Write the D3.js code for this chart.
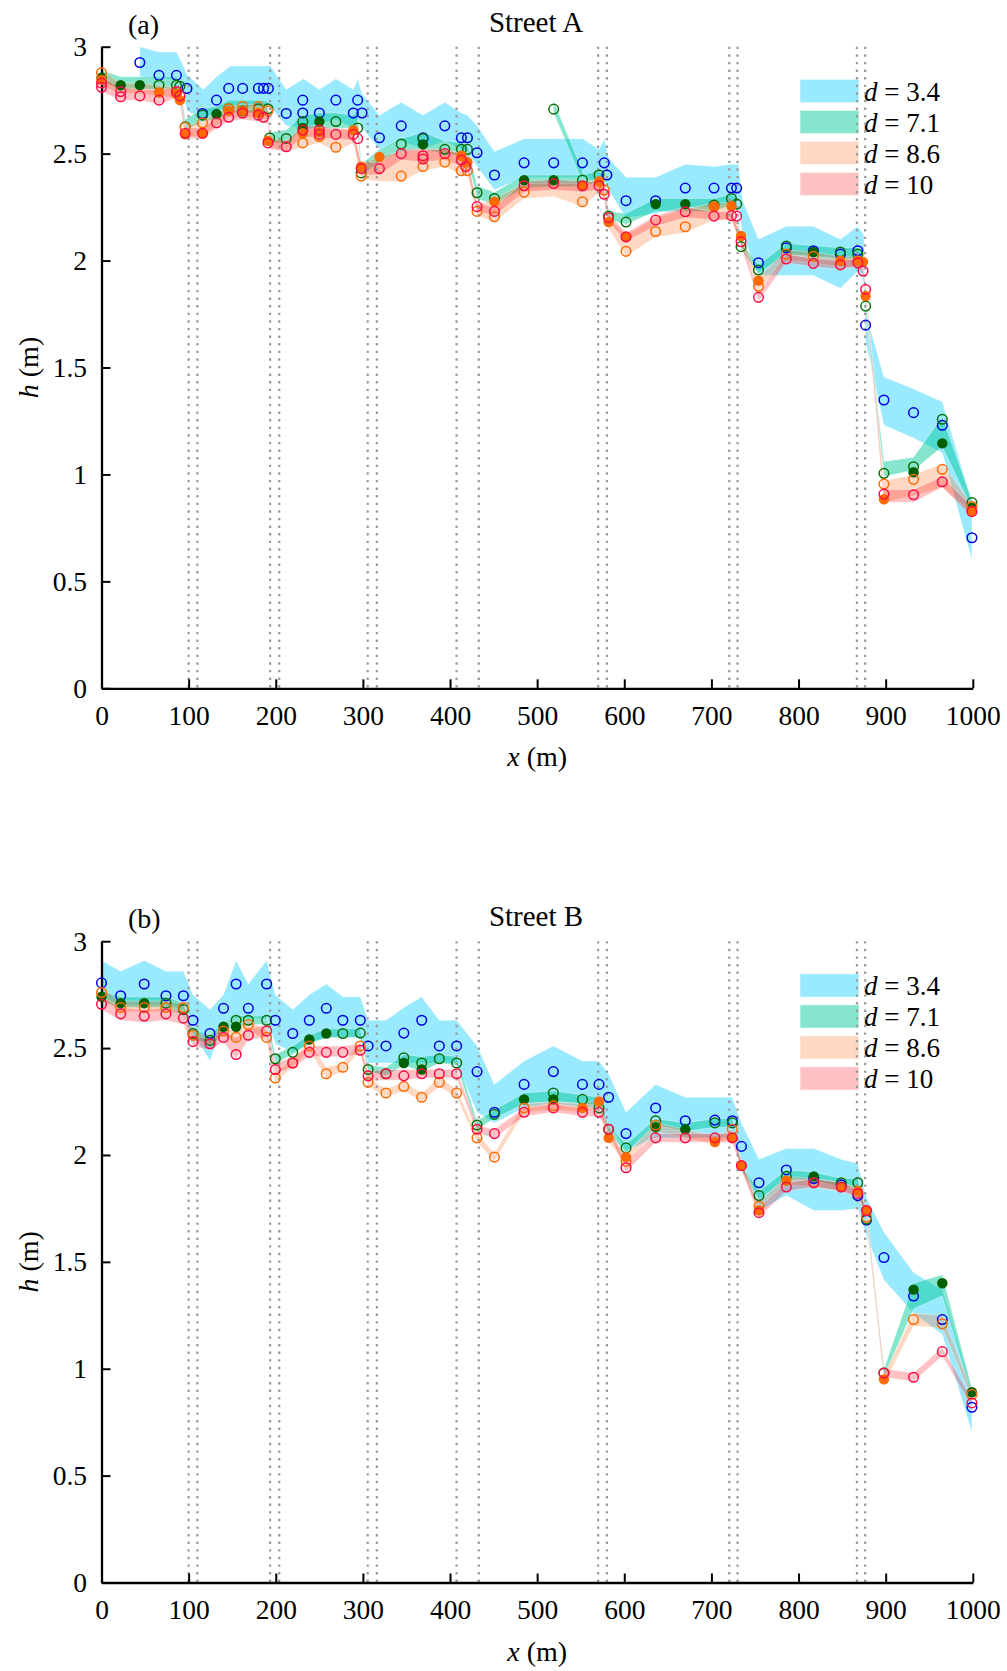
<!DOCTYPE html>
<html>
<head>
<meta charset="utf-8">
<script src="https://cdn.jsdelivr.net/npm/d3@7"></script>
<style>
  html, body { margin: 0; padding: 0; background: #fff; }
  svg { display: block; }
  text { font-family: "Liberation Serif", "Times New Roman", serif; fill: #000; }
</style>
</head>
<body>
<svg id="chart" width="1007" height="1671"></svg>
<script>
// ---- tick labels and common settings ----
const xTicks = [0, 100, 200, 300, 400, 500, 600, 700, 800, 900, 1000];
const yTicks = [0, 0.5, 1, 1.5, 2, 2.5, 3];
const seriesLabels = ["d = 3.4", "d = 7.1", "d = 8.6", "d = 10"];
const panelTitles = ["Street A", "Street B"];
const panelTags = ["(a)", "(b)"];
// intersections along the street (pairs of dotted lines)
const crossings = [[100, 110], [193.5, 204], [305.5, 316], [407.5, 433], [570, 580], [720.5, 730], [867, 876.5]];

// ---- Street A : bands [x, low, high] ----
const bandA_d34 = [[44,2.86,3.0],[66,2.85,2.975],[86,2.85,2.975],[93,2.8,2.92],[98,2.70,2.87],[117,2.66,2.80],[132,2.70,2.86],[148,2.72,2.91],[162,2.72,2.91],[180,2.72,2.91],[194,2.72,2.91],[212,2.63,2.80],[232,2.62,2.85],[250,2.64,2.80],[269,2.66,2.85],[289,2.62,2.80],[294,2.66,2.85],[299,2.62,2.78],[319,2.52,2.68],[344,2.56,2.74],[369,2.52,2.68],[394,2.56,2.74],[413,2.52,2.69],[420,2.51,2.68],[431,2.44,2.63],[451,2.33,2.51],[485,2.39,2.57],[519,2.39,2.57],[552,2.39,2.57],[571,2.37,2.52],[577,2.38,2.57],[582,2.33,2.48],[602,2.20,2.39],[636,2.22,2.39],[670,2.25,2.45],[703,2.25,2.44],[723,2.27,2.45],[731,2.25,2.45],[736,2.12,2.28],[754,1.93,2.10],[786,1.93,2.16],[817,1.93,2.16],[848,1.87,2.10],[868,1.95,2.16],[875,1.9,2.12],[877,1.62,1.76],[898,1.23,1.456],[932,1.17,1.40],[965,1.10,1.34],[999,0.6,0.87]];
const bandA_d71 = [[0,2.835,2.89],[22,2.80,2.86],[44,2.80,2.86],[66,2.80,2.86],[86,2.80,2.86],[90,2.78,2.84],[96,2.61,2.66],[116,2.65,2.71],[132,2.66,2.72],[146,2.69,2.75],[162,2.69,2.75],[180,2.69,2.75],[191,2.69,2.745],[193,2.55,2.60],[212,2.55,2.61],[231,2.61,2.68],[250,2.62,2.69],[269,2.62,2.69],[289,2.62,2.68],[294,2.60,2.70],[298,2.40,2.45],[319,2.46,2.52],[344,2.51,2.57],[369,2.52,2.60],[394,2.50,2.56],[413,2.49,2.55],[420,2.48,2.54],[431,2.29,2.35],[451,2.26,2.32],[485,2.34,2.40],[519,2.345,2.40],[552,2.345,2.40],[571,2.37,2.42],[577,2.34,2.40],[582,2.19,2.23],[602,2.17,2.22],[636,2.23,2.29],[670,2.23,2.29],[703,2.23,2.29],[723,2.26,2.31],[729,2.24,2.29],[734,2.05,2.09],[754,1.94,1.98],[786,2.03,2.08],[817,2.02,2.07],[848,2.01,2.06],[868,2.01,2.06],[874,1.97,2.03],[877,1.77,1.82],[898,0.99,1.06],[932,1.02,1.08],[965,1.13,1.27],[999,0.84,0.88]];
const bandA_d71_spike = [[519,2.69,2.745],[552,2.37,2.42]];
const bandA_d86 = [[0,2.82,2.89],[22,2.78,2.83],[44,2.78,2.83],[66,2.77,2.82],[86,2.76,2.81],[90,2.74,2.80],[96,2.58,2.63],[116,2.58,2.65],[132,2.63,2.69],[146,2.67,2.72],[162,2.67,2.73],[180,2.67,2.73],[191,2.66,2.72],[193,2.53,2.57],[212,2.51,2.56],[231,2.53,2.61],[250,2.55,2.62],[269,2.51,2.61],[289,2.55,2.62],[298,2.38,2.45],[319,2.37,2.49],[344,2.37,2.51],[369,2.42,2.52],[394,2.44,2.52],[413,2.40,2.50],[420,2.40,2.48],[431,2.21,2.26],[451,2.18,2.29],[485,2.29,2.36],[519,2.30,2.36],[552,2.25,2.36],[571,2.32,2.38],[577,2.28,2.36],[582,2.15,2.20],[602,2.02,2.12],[636,2.11,2.20],[670,2.13,2.24],[703,2.19,2.27],[723,2.19,2.27],[734,2.08,2.12],[754,1.86,1.92],[786,2.00,2.05],[817,1.99,2.04],[848,1.97,2.02],[868,1.97,2.02],[874,1.96,2.01],[877,1.81,1.86],[898,0.87,0.97],[932,0.90,1.00],[965,0.94,1.05],[999,0.82,0.86]];
const bandA_d10 = [[0,2.79,2.86],[22,2.75,2.81],[44,2.75,2.80],[66,2.73,2.80],[86,2.76,2.81],[90,2.75,2.80],[96,2.57,2.62],[116,2.57,2.62],[132,2.62,2.67],[146,2.65,2.70],[162,2.66,2.71],[180,2.65,2.70],[191,2.64,2.70],[193,2.52,2.57],[212,2.51,2.56],[231,2.58,2.63],[250,2.57,2.63],[269,2.57,2.62],[289,2.56,2.61],[298,2.40,2.46],[319,2.40,2.46],[344,2.47,2.52],[369,2.46,2.52],[394,2.47,2.52],[413,2.44,2.50],[420,2.42,2.47],[431,2.23,2.27],[451,2.21,2.25],[485,2.32,2.37],[519,2.33,2.38],[552,2.32,2.37],[571,2.33,2.37],[577,2.29,2.33],[582,2.18,2.22],[602,2.09,2.13],[636,2.16,2.21],[670,2.20,2.25],[703,2.19,2.23],[723,2.19,2.23],[734,2.07,2.11],[754,1.81,1.85],[786,1.99,2.03],[817,1.97,2.01],[848,1.96,2.00],[868,1.97,2.01],[874,1.93,1.97],[877,1.85,1.88],[898,0.87,0.93],[932,0.87,0.93],[965,0.94,0.99],[999,0.80,0.85]];

// ---- Street A : measured points [x, h] ----
const openA_d34 = [[44,2.926],[66,2.866],[86,2.866],[98,2.805],[116,2.688],[132,2.75],[146,2.805],[162,2.805],[180,2.805],[186,2.805],[191.5,2.805],[212,2.688],[231,2.75],[231,2.69],[250,2.69],[269,2.75],[289,2.69],[294,2.75],[299,2.69],[319,2.574],[344,2.63],[369,2.574],[394,2.63],[413,2.574],[420,2.574],[431,2.504],[451,2.40],[485,2.457],[519,2.457],[552,2.457],[577,2.457],[580,2.40],[602,2.28],[636,2.28],[670,2.339],[703,2.339],[723,2.339],[729,2.339],[754,1.99],[786,2.06],[817,2.046],[848,2.03],[868,2.046],[877,1.698],[898,1.348],[932,1.289],[965,1.23],[999,0.704]];
const filledA_d34 = [];
const openA_d71 = [[66,2.82],[86,2.82],[90,2.815],[96,2.625],[116,2.68],[146,2.71],[162,2.70],[180,2.71],[191,2.71],[193,2.573],[212,2.571],[231,2.65],[269,2.65],[294,2.62],[298,2.41],[344,2.545],[369,2.57],[394,2.52],[413,2.52],[420,2.52],[431,2.317],[451,2.29],[519,2.708],[552,2.376],[571,2.40],[582,2.208],[602,2.18],[703,2.26],[723,2.29],[729,2.264],[734,2.065],[754,1.956],[786,2.068],[848,2.04],[868,2.03],[877,1.787],[898,1.005],[932,1.036],[965,1.258],[999,0.868]];
const filledA_d71 = [[0,2.855],[22,2.82],[44,2.82],[132,2.685],[231,2.62],[250,2.65],[369,2.543],[485,2.376],[519,2.376],[636,2.264],[670,2.264],[817,2.04],[932,1.01],[965,1.145],[999,0.845]];
const openA_d86 = [[0,2.878],[86,2.79],[96,2.623],[116,2.644],[146,2.71],[162,2.72],[180,2.72],[191,2.70],[231,2.55],[250,2.58],[269,2.53],[298,2.395],[344,2.395],[369,2.44],[394,2.46],[413,2.42],[420,2.42],[431,2.23],[451,2.205],[485,2.32],[552,2.275],[577,2.33],[602,2.043],[636,2.136],[670,2.158],[703,2.252],[754,1.88],[786,2.03],[817,2.02],[898,0.955],[932,0.977],[965,1.024],[999,0.85]];
const filledA_d86 = [[0,2.845],[66,2.786],[86,2.78],[90,2.75],[96,2.59],[116,2.595],[146,2.70],[162,2.70],[180,2.69],[191,2.56],[231,2.595],[250,2.60],[289,2.61],[298,2.439],[319,2.485],[413,2.49],[420,2.46],[451,2.275],[552,2.35],[571,2.37],[582,2.18],[602,2.111],[703,2.25],[723,2.255],[734,2.115],[754,1.906],[848,1.999],[868,2.0],[874,1.994],[877,1.834],[898,0.884],[999,0.83]];
const openA_d10 = [[0,2.83],[0,2.81],[22,2.79],[22,2.766],[44,2.77],[66,2.75],[86,2.79],[90,2.77],[96,2.595],[116,2.595],[132,2.644],[146,2.67],[162,2.69],[180,2.68],[186,2.67],[191,2.55],[212,2.532],[231,2.61],[250,2.59],[250,2.61],[269,2.59],[289,2.59],[294,2.57],[298,2.43],[319,2.43],[344,2.50],[369,2.49],[369,2.475],[394,2.50],[413,2.47],[418,2.44],[431,2.252],[451,2.23],[485,2.35],[519,2.36],[552,2.35],[571,2.35],[577,2.31],[582,2.20],[602,2.111],[636,2.19],[670,2.228],[703,2.208],[723,2.21],[729,2.208],[734,2.088],[754,1.828],[786,2.007],[817,1.987],[848,1.98],[868,1.99],[874,1.951],[877,1.865],[898,0.908],[932,0.905],[965,0.966],[999,0.826]];
const filledA_d10 = [];

// ---- Street B : bands [x, low, high] ----
const bandB_d34 = [[0,2.74,2.91],[22,2.70,2.86],[49,2.70,2.91],[74,2.70,2.86],[94,2.68,2.86],[105,2.57,2.75],[124.5,2.44,2.68],[140,2.62,2.75],[154.5,2.64,2.91],[168.5,2.64,2.80],[189.5,2.64,2.91],[199.5,2.52,2.75],[219.5,2.48,2.68],[238.5,2.52,2.75],[258,2.55,2.80],[277,2.55,2.74],[297,2.55,2.74],[306,2.43,2.63],[326.5,2.43,2.63],[347,2.43,2.69],[367.5,2.43,2.74],[387.7,2.43,2.63],[407.6,2.43,2.63],[431,2.20,2.51],[451,2.15,2.33],[485,2.22,2.44],[518.6,2.24,2.51],[552,2.22,2.44],[571,2.22,2.44],[582,2.14,2.38],[602,2.02,2.20],[636,2.08,2.33],[670,2.08,2.27],[704,2.08,2.27],[724,2.08,2.27],[734.5,1.95,2.15],[754.6,1.74,1.98],[786,1.81,2.03],[817.5,1.74,2.03],[849,1.74,1.98],[868,1.75,1.96],[878,1.62,1.80],[898,1.415,1.64],[932,1.26,1.45],[965,1.16,1.37],[999,0.70,0.90]];
const bandB_d71 = [[0,2.72,2.77],[22,2.69,2.74],[49,2.69,2.74],[74,2.69,2.74],[94,2.66,2.71],[105,2.55,2.59],[124.5,2.52,2.56],[140,2.58,2.62],[154.5,2.60,2.65],[168.5,2.61,2.65],[189.5,2.61,2.65],[199.5,2.43,2.47],[219.5,2.47,2.51],[238.5,2.52,2.56],[258,2.55,2.59],[277,2.55,2.59],[297,2.55,2.59],[306,2.39,2.42],[326.5,2.37,2.41],[347,2.42,2.47],[367.5,2.39,2.46],[387.7,2.43,2.47],[407.6,2.42,2.46],[431,2.12,2.16],[451,2.17,2.21],[485,2.24,2.29],[518.6,2.25,2.30],[552,2.24,2.28],[571,2.23,2.27],[582,2.10,2.14],[602,2.01,2.05],[636,2.14,2.17],[670,2.11,2.15],[704,2.13,2.17],[724,2.13,2.17],[734.5,1.93,1.96],[754.6,1.79,1.83],[786,1.89,1.93],[817.5,1.88,1.92],[849,1.85,1.89],[868,1.85,1.89],[878,1.68,1.72],[898,0.96,1.00],[932,1.28,1.40],[965,1.34,1.44],[999,0.87,0.91]];
const bandB_d86 = [[0,2.73,2.78],[22,2.67,2.72],[49,2.67,2.72],[74,2.67,2.72],[94,2.66,2.71],[105,2.54,2.58],[124.5,2.51,2.55],[140,2.56,2.60],[154.5,2.53,2.58],[168.5,2.59,2.63],[189.5,2.53,2.58],[199.5,2.34,2.38],[219.5,2.41,2.45],[238.5,2.49,2.53],[258,2.36,2.41],[277,2.39,2.43],[297,2.49,2.53],[306,2.32,2.36],[326.5,2.27,2.31],[347,2.30,2.34],[367.5,2.25,2.29],[387.7,2.32,2.36],[407.6,2.27,2.31],[431,2.06,2.10],[451,1.97,2.01],[485,2.20,2.24],[518.6,2.21,2.25],[552,2.20,2.24],[571,2.22,2.26],[582,2.06,2.10],[602,1.96,2.00],[636,2.11,2.15],[670,2.08,2.12],[704,2.05,2.09],[724,2.08,2.12],[734.5,1.93,1.97],[754.6,1.74,1.78],[786,1.86,1.90],[817.5,1.85,1.89],[849,1.83,1.87],[868,1.81,1.85],[878,1.70,1.74],[898,0.93,0.97],[932,1.20,1.26],[965,1.19,1.25],[999,0.86,0.90]];
const bandB_d10 = [[0,2.68,2.74],[22,2.63,2.69],[49,2.62,2.68],[74,2.63,2.69],[94,2.61,2.67],[105,2.51,2.56],[124.5,2.49,2.54],[140,2.53,2.58],[154.5,2.45,2.55],[168.5,2.54,2.59],[189.5,2.55,2.61],[199.5,2.38,2.43],[219.5,2.41,2.46],[238.5,2.46,2.51],[258,2.46,2.51],[277,2.46,2.51],[297,2.47,2.52],[306,2.35,2.39],[326.5,2.35,2.40],[347,2.35,2.40],[367.5,2.36,2.40],[387.7,2.36,2.40],[407.6,2.36,2.40],[431,2.10,2.14],[451,2.08,2.12],[485,2.18,2.22],[518.6,2.20,2.24],[552,2.18,2.22],[571,2.18,2.22],[582,2.10,2.14],[602,1.92,1.97],[636,2.06,2.10],[670,2.06,2.10],[704,2.06,2.10],[724,2.06,2.10],[734.5,1.93,1.97],[754.6,1.71,1.75],[786,1.83,1.87],[817.5,1.85,1.89],[849,1.83,1.87],[868,1.80,1.84],[878,1.72,1.76],[898,0.96,1.00],[932,0.94,0.98],[965,1.06,1.10],[999,0.82,0.86]];

// ---- Street B : measured points [x, h] ----
const openB_d34 = [[0,2.805],[22,2.745],[49,2.80],[74,2.745],[94,2.745],[105,2.63],[124.5,2.568],[140,2.686],[154.5,2.80],[168.5,2.686],[189.5,2.80],[199.5,2.63],[219.5,2.568],[238.5,2.63],[258,2.686],[277,2.63],[297,2.63],[306,2.51],[326.5,2.51],[347,2.57],[367.5,2.63],[387.7,2.51],[407.6,2.51],[431,2.39],[451,2.20],[485,2.33],[518.6,2.39],[552,2.33],[571,2.33],[582,2.27],[602,2.10],[636,2.22],[670,2.16],[704,2.163],[724,2.16],[734.5,2.04],[754.6,1.87],[786,1.93],[817.5,1.89],[849,1.86],[868,1.81],[878,1.696],[898,1.52],[932,1.34],[965,1.23],[999,0.82]];
const filledB_d34 = [];
const openB_d71 = [[74,2.71],[94,2.68],[105,2.568],[124.5,2.536],[154.5,2.63],[168.5,2.63],[189.5,2.63],[199.5,2.45],[219.5,2.48],[277,2.568],[297,2.57],[306,2.40],[326.5,2.38],[347,2.455],[367.5,2.43],[387.7,2.45],[407.6,2.43],[431,2.14],[451,2.19],[518.6,2.29],[552,2.26],[571,2.22],[582,2.12],[602,2.033],[636,2.16],[704,2.15],[724,2.15],[754.6,1.81],[786,1.90],[849,1.87],[868,1.87],[878,1.70],[898,0.98]];
const filledB_d71 = [[0,2.74],[22,2.71],[49,2.71],[140,2.60],[154.5,2.60],[238.5,2.54],[258,2.568],[347,2.43],[367.5,2.40],[485,2.26],[518.6,2.26],[636,2.13],[670,2.12],[817.5,1.90],[932,1.37],[965,1.40],[999,0.89]];
const openB_d86 = [[0,2.76],[22,2.69],[49,2.69],[74,2.69],[94,2.69],[105,2.56],[140,2.58],[154.5,2.55],[168.5,2.61],[189.5,2.55],[199.5,2.36],[219.5,2.43],[238.5,2.51],[258,2.38],[277,2.41],[297,2.51],[306,2.34],[326.5,2.29],[347,2.32],[367.5,2.27],[387.7,2.34],[407.6,2.29],[431,2.08],[451,1.99],[485,2.22],[518.6,2.23],[602,1.97],[636,2.14],[724,2.12],[754.6,1.76],[817.5,1.87],[878,1.71],[932,1.23],[965,1.21],[999,0.88]];
const filledB_d86 = [[552,2.22],[571,2.25],[582,2.08],[602,1.99],[704,2.06],[724,2.08],[734.5,1.95],[754.6,1.74],[786,1.88],[849,1.85],[868,1.83],[878,1.74],[898,0.95]];
const openB_d10 = [[0,2.705],[22,2.66],[49,2.65],[74,2.66],[94,2.64],[105,2.53],[124.5,2.52],[140,2.55],[154.5,2.47],[168.5,2.56],[189.5,2.58],[199.5,2.40],[219.5,2.43],[238.5,2.48],[258,2.48],[277,2.48],[297,2.49],[306,2.37],[326.5,2.38],[347,2.37],[367.5,2.38],[387.7,2.38],[407.6,2.38],[431,2.12],[451,2.10],[485,2.20],[518.6,2.22],[552,2.20],[571,2.20],[582,2.12],[602,1.94],[636,2.08],[670,2.08],[704,2.08],[724,2.08],[734.5,1.95],[754.6,1.73],[786,1.85],[817.5,1.87],[849,1.85],[868,1.82],[878,1.74],[898,0.98],[932,0.96],[965,1.08],[999,0.84]];
const filledB_d10 = [];

// ---- styling per series (d = 3.4, 7.1, 8.6, 10) ----
const bandFill = ["rgba(0,200,255,0.40)", "rgba(0,200,150,0.48)", "rgba(255,120,50,0.29)", "rgba(255,0,10,0.24)"];
const ringColor = ["#0000e0", "#0a6e0a", "#ff6a00", "#ff0a46"];
const dotColor = ["#0000e0", "#005f00", "#ff6a00", "#ff0a46"];

const panels = [
  { top: 46.7, bottom: 688.3,
    bands: [[bandA_d34], [bandA_d71, bandA_d71_spike], [bandA_d86], [bandA_d10]],
    open: [openA_d34, openA_d71, openA_d86, openA_d10],
    filled: [filledA_d34, filledA_d71, filledA_d86, filledA_d10] },
  { top: 941.2, bottom: 1582.5,
    bands: [[bandB_d34], [bandB_d71], [bandB_d86], [bandB_d10]],
    open: [openB_d34, openB_d71, openB_d86, openB_d10],
    filled: [filledB_d34, filledB_d71, filledB_d86, filledB_d10] }
];

const svg = d3.select("#chart");
const x = d3.scaleLinear().domain([0, 1000]).range([101.5, 972.8]);

panels.forEach((p, i) => {
  const y = d3.scaleLinear().domain([0, 3]).range([p.bottom, p.top]);
  const g = svg.append("g");

  // shaded bands
  const area = d3.area().x(d => x(d[0])).y0(d => y(d[1])).y1(d => y(d[2]));
  p.bands.forEach((segs, s) => {
    segs.forEach(seg => {
      g.append("path").attr("d", area(seg))
        .attr("fill", bandFill[s])
        .attr("stroke", "rgba(255,255,255,0.45)").attr("stroke-width", 0.8);
    });
  });

  // legend
  const lg = g.append("g");
  seriesLabels.forEach((lab, s) => {
    const yy = p.top + 32.6 + s * 31;
    lg.append("rect").attr("x", 800).attr("y", yy).attr("width", 59).attr("height", 23.3)
      .attr("fill", bandFill[s]).attr("stroke", "rgba(255,255,255,0.6)").attr("stroke-width", 1);
    const t = lg.append("text").attr("x", 864).attr("y", yy + 21.5).attr("font-size", 27);
    const parts = lab.split(" = ");
    t.append("tspan").attr("font-style", "italic").text(parts[0]);
    t.append("tspan").text(" = " + parts[1]);
  });

  // dotted lines at the crossings
  crossings.forEach(pair => pair.forEach(xv => {
    g.append("line").attr("x1", x(xv)).attr("x2", x(xv))
      .attr("y1", y(3)).attr("y2", y(0))
      .attr("stroke", "#9a9a9a").attr("stroke-width", 2.2)
      .attr("stroke-dasharray", "2.4,5.2");
  }));

  // axes
  const xAxis = d3.axisBottom(x).tickValues(xTicks).tickSize(-9).tickSizeOuter(0).tickPadding(17)
    .tickFormat(d => String(d));
  const gx = g.append("g").attr("transform", `translate(0,${p.bottom})`).call(xAxis);
  const yAxis = d3.axisLeft(y).tickValues(yTicks).tickSize(-9).tickSizeOuter(0).tickPadding(14.5)
    .tickFormat(d => String(d));
  const gy = g.append("g").attr("transform", `translate(${x(0)},0)`).call(yAxis);
  [gx, gy].forEach(ax => {
    ax.select(".domain").attr("stroke", "#000").attr("stroke-width", 2.3);
    ax.selectAll(".tick line").attr("stroke", "#000").attr("stroke-width", 2);
    ax.selectAll(".tick text").attr("font-size", 27.5)
      .attr("font-family", '"Liberation Serif", "Times New Roman", serif').attr("fill", "#000");
  });

  // markers
  p.open.forEach((pts, s) => {
    g.append("g").selectAll("circle").data(pts).join("circle")
      .attr("cx", d => x(d[0])).attr("cy", d => y(d[1])).attr("r", 4.8)
      .attr("fill", "none").attr("stroke", ringColor[s]).attr("stroke-width", 1.5);
    g.append("g").selectAll("circle").data(p.filled[s]).join("circle")
      .attr("cx", d => x(d[0])).attr("cy", d => y(d[1])).attr("r", 5.2)
      .attr("fill", dotColor[s]);
  });

  // titles and labels
  g.append("text").attr("x", 128).attr("y", p.top - 13).attr("font-size", 28).text(panelTags[i]);
  g.append("text").attr("x", 536).attr("y", p.top - 15).attr("font-size", 29)
    .attr("text-anchor", "middle").text(panelTitles[i]);
  const xl = g.append("text").attr("x", x(500)).attr("y", p.bottom + 78).attr("font-size", 28)
    .attr("text-anchor", "middle");
  xl.append("tspan").attr("font-style", "italic").text("x");
  xl.append("tspan").text(" (m)");
  const ym = (p.top + p.bottom) / 2;
  const yl = g.append("text").attr("transform", `translate(38,${ym}) rotate(-90)`).attr("font-size", 28)
    .attr("text-anchor", "middle");
  yl.append("tspan").attr("font-style", "italic").text("h");
  yl.append("tspan").text(" (m)");
});
</script>
</body>
</html>
